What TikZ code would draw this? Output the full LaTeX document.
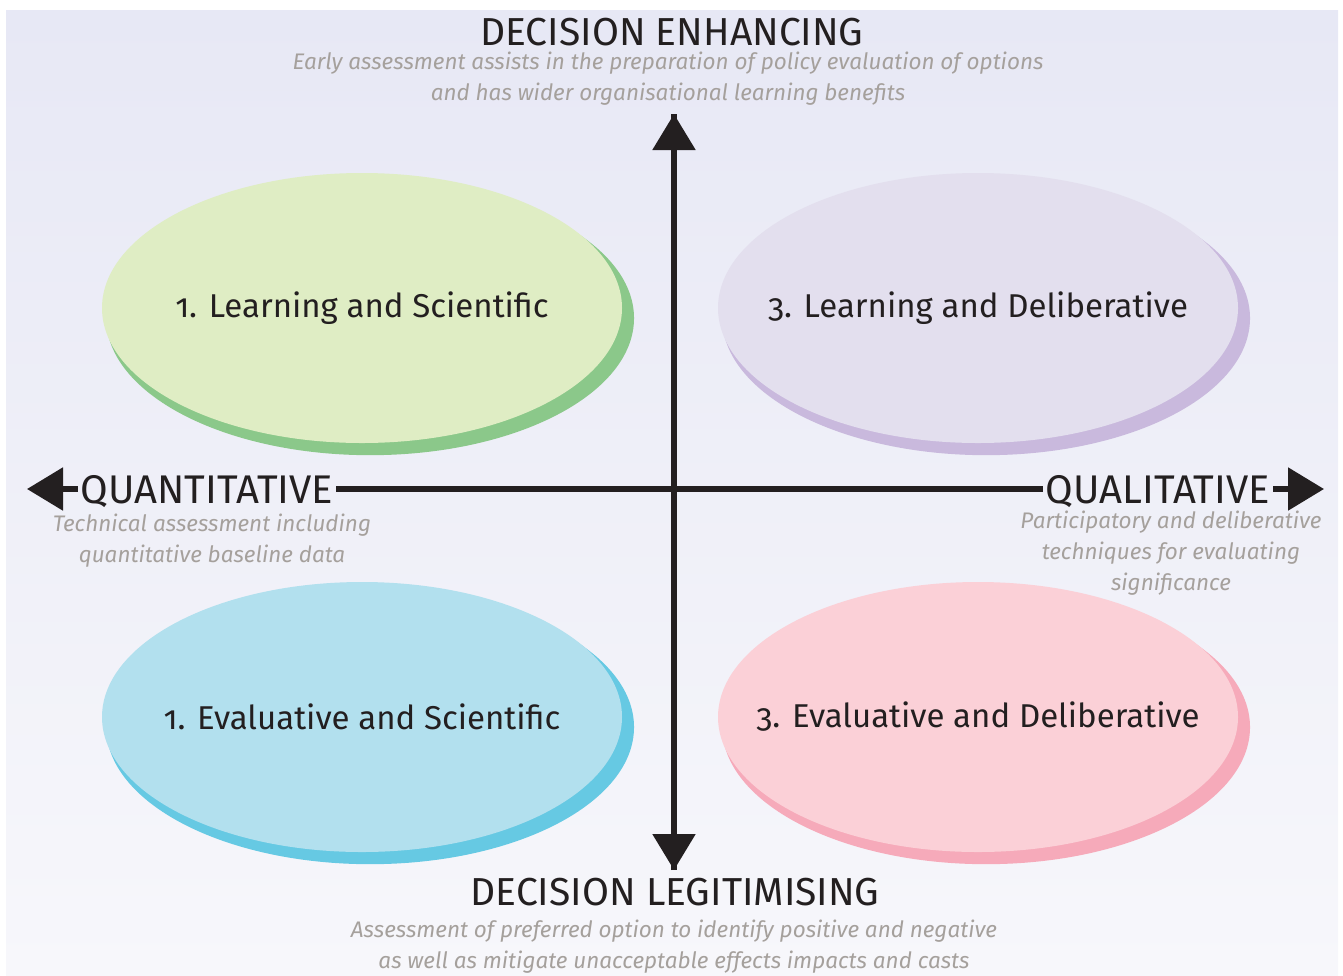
\documentclass[tikz,border=0pt]{standalone}
\usepackage{fontspec}
\setmainfont{Fira Sans}[Numbers = OldStyle]
\usetikzlibrary{arrows.meta}
\usetikzlibrary{shapes.geometric}
\usetikzlibrary{shadows}

\definecolor{bgtop}{HTML}{E7E8F5}
\definecolor{bgbot}{HTML}{F7F7FB}
\definecolor{ink}{HTML}{231F20}
\definecolor{notegray}{HTML}{A5A09C}
\definecolor{greenmain}{HTML}{DFEDC4}
\definecolor{greenshade}{HTML}{8BC88A}
\definecolor{purplemain}{HTML}{E3DFEE}
\definecolor{purpleshade}{HTML}{C9B9DD}
\definecolor{bluemain}{HTML}{B2E0EE}
\definecolor{blueshade}{HTML}{66C9E3}
\definecolor{pinkmain}{HTML}{FBD0D7}
\definecolor{pinkshade}{HTML}{F6AABA}

\begin{document}
\begin{tikzpicture}[x=1pt,y=-1pt]
		\tikzset{bubble/.style={shape = ellipse, minimum width = 520pt, minimum height = 270pt,
				inner xsep = -80pt, inner ysep = 0pt, text = ink, font = \fontsize{33}{38}\selectfont}}
		\tikzset{bubbleshadow/.style={general shadow={fill = #1, shadow xshift = 8pt,
					shadow yshift = -10pt, shadow scale = 1.015}}}
		\tikzset{heading/.style={anchor = base, inner sep = 0pt, text = ink,
				font = \fontsize{39}{44}\selectfont}}
		\tikzset{axislabel/.style={anchor = base, inner xsep = 3pt, inner ysep = 0pt, text = ink,
				font = \fontsize{40}{44}\selectfont}}
		\tikzset{note/.style={anchor = north, inner sep = 0pt, align = center, text = notegray,
				font = \fontsize{22.5}{31}\selectfont\itshape}}
		\tikzset{axis/.style={draw = ink, line width = 5.5pt}}
		\tikzset{tip/.style={-{Triangle[length = 36pt, width = 42pt]}}}
		\useasboundingbox (0,0) rectangle (1343,975);
		%background
		\shade[top color = bgtop, bottom color = bgbot] (6,10) rectangle (1338,975);
		%quadrants
		\node[bubble, fill = greenmain, bubbleshadow = greenshade] (ls) at (362,308) {1. Learning and Scientific};
		\node[bubble, fill = purplemain, bubbleshadow = purpleshade] (ld) at (978,308) {3. Learning and Deliberative};
		\node[bubble, fill = bluemain, bubbleshadow = blueshade] (es) at (362,717) {1. Evaluative and Scientific};
		\node[bubble, fill = pinkmain, bubbleshadow = pinkshade] (ed) at (978,717) {3. Evaluative and Deliberative};
		%axis ends
		\coordinate (top) at (674,114);
		\coordinate (bottom) at (674,870);
		\coordinate (left) at (27,489);
		\coordinate (right) at (1324,489);
		%labels
		\node[heading] (enh) at (672,45) {DECISION ENHANCING};
		\node[note] (enhnote) at (668,52) {Early assessment assists in the preparation of policy evaluation of options\\and has wider organisational learning benefits};
		\node[heading] (legit) at (675,905) {DECISION LEGITIMISING};
		\node[note] (legitnote) at (674,920) {Assessment of preferred option to identify positive and negative\\as well as mitigate unacceptable effects impacts and casts};
		\node[axislabel] (quant) at (207,503) {QUANTITATIVE};
		\node[note] (quantnote) at (212,514) {Technical assessment including\\quantitative baseline data};
		\node[axislabel] (qual) at (1158,503) {QUALITATIVE};
		\node[note] (qualnote) at (1171,511) {Participatory and deliberative\\techniques for evaluating\\significance};
		%axes
		\draw[axis, tip] (bottom) -- (top);
		\draw[axis, tip] (top) -- (bottom);
		\draw[axis, tip] (quant.west |- left) -- (left);
		\draw[axis] (quant.east |- left) -- (qual.west |- left);
		\draw[axis, tip] (qual.east |- left) -- (right);
\end{tikzpicture}
\end{document}
